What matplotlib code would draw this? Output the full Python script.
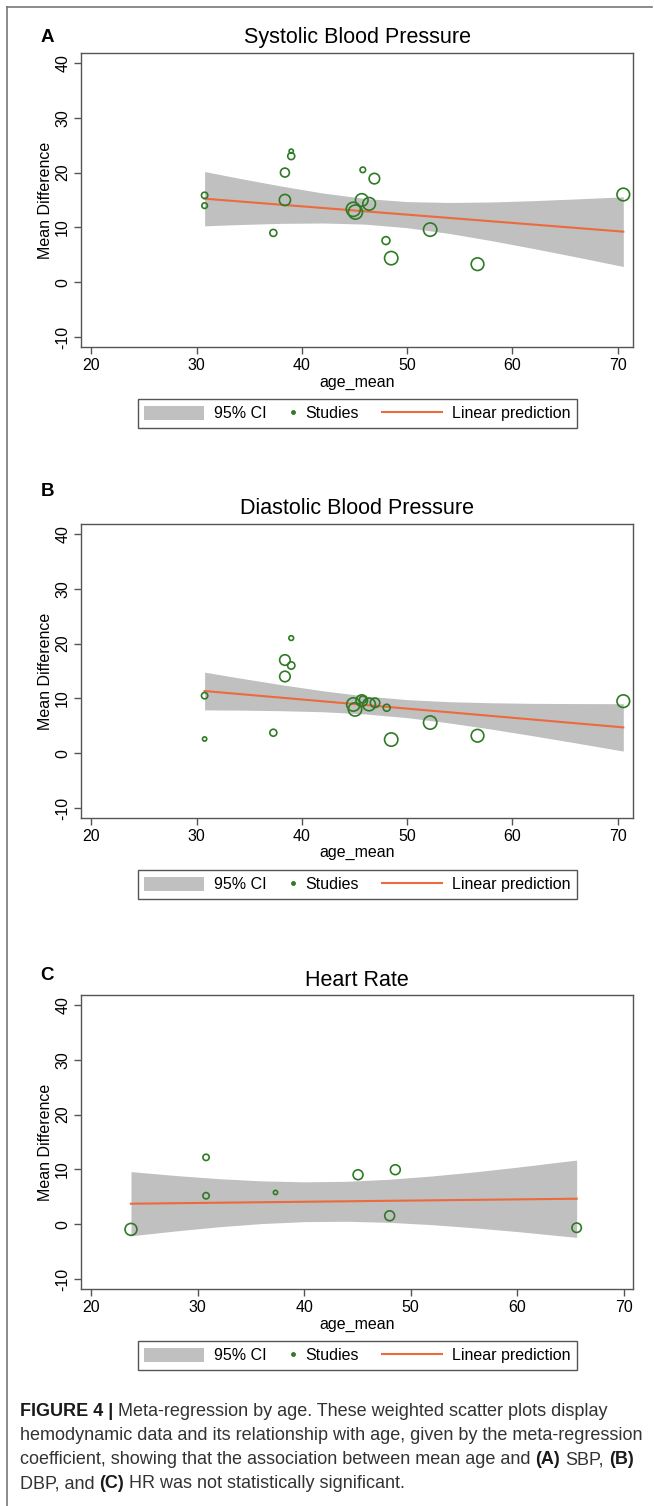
import numpy as np
import matplotlib.pyplot as plt
from matplotlib.lines import Line2D
from matplotlib.patches import Patch
from matplotlib.legend_handler import HandlerLine2D

plt.rcParams['font.family'] = ['Liberation Sans', 'DejaVu Sans']
plt.rcParams['axes.unicode_minus'] = False

# ---- data ----
# A: systolic blood pressure
sbp_age = [30.77, 30.77, 37.3, 38.4, 38.4, 39.0, 39.0, 45.8, 46.9, 44.9,
           45.1, 45.7, 46.4, 48.0, 48.5, 52.2, 56.7, 70.55]
sbp_md = [15.85, 13.97, 9.0, 20.0, 15.0, 23.9, 23.0, 20.5, 18.9, 13.3,
          12.8, 15.0, 14.3, 7.6, 4.4, 9.6, 3.3, 16.0]
sbp_w = [9, 7, 11, 18, 28, 4, 11, 7, 25, 45, 45, 36, 36, 14, 40, 40, 36, 36]
sbp_fit_x = [30.77, 70.55]
sbp_fit_y = [15.24, 9.23]
sbp_ci_x = [30.77, 34, 38, 42, 46, 50, 54, 58, 62, 66, 70.55]
sbp_ci_hi = [20.19, 18.98, 17.56, 16.27, 15.28, 14.71, 14.55, 14.64, 14.88, 15.19, 15.58]
sbp_ci_lo = [10.29, 10.52, 10.74, 10.81, 10.60, 9.95, 8.91, 7.60, 6.16, 4.65, 2.88]

# B: diastolic blood pressure
dbp_age = [30.77, 30.77, 37.3, 38.4, 38.4, 39.0, 39.0, 45.8, 46.96, 44.9,
           45.06, 45.7, 46.4, 48.07, 48.5, 52.2, 56.7, 70.55]
dbp_md = [10.5, 2.6, 3.75, 17.0, 14.0, 21.0, 16.0, 9.8, 9.2, 8.9,
          8.0, 9.6, 8.9, 8.3, 2.5, 5.6, 3.2, 9.5]
dbp_w = [9, 4, 11, 25, 25, 5, 12, 11, 20, 40, 40, 30, 36, 11, 40, 40, 36, 36]
dbp_fit_x = [30.77, 70.55]
dbp_fit_y = [11.35, 4.72]
dbp_ci_x = [30.77, 34, 38, 42, 46, 50, 54, 58, 62, 66, 70.55]
dbp_ci_hi = [14.79, 13.75, 12.52, 11.39, 10.45, 9.78, 9.40, 9.21, 9.10, 9.06, 9.04]
dbp_ci_lo = [7.91, 7.87, 7.76, 7.57, 7.17, 6.50, 5.54, 4.41, 3.18, 1.90, 0.40]

# C: heart rate
hr_age = [23.73, 30.78, 30.78, 37.3, 45.05, 48.55, 48.02, 65.58]
hr_md = [-0.93, 12.2, 5.2, 5.8, 9.03, 9.95, 1.55, -0.63]
hr_w = [32, 9, 9, 4, 22, 22, 22, 20]
hr_fit_x = [23.73, 65.58]
hr_fit_y = [3.75, 4.66]
hr_ci_x = [23.73, 28, 32, 36, 40, 44, 48, 52, 56, 60, 65.58]
hr_ci_hi = [9.60, 8.88, 8.31, 7.91, 7.74, 7.83, 8.21, 8.81, 9.55, 10.41, 11.71]
hr_ci_lo = [-2.10, -1.20, -0.45, 0.13, 0.48, 0.55, 0.35, -0.07, -0.65, -1.33, -2.39]

legend_labels = ['95% CI', 'Studies', 'Linear prediction']
yticks = [-10, 0, 10, 20, 30, 40]
xticks = [20, 30, 40, 50, 60, 70]

GREEN = '#2f7a25'
ORANGE = '#ec6a3e'
CI_GRAY = '#c0c0c0'
FRAME = '#555555'

W, H = 654, 1506
fig = plt.figure(figsize=(W / 100, H / 100), dpi=100)


class SmallDot(HandlerLine2D):
    # narrow handle box for the dot marker
    def legend_artist(self, legend, orig_handle, fontsize, handlebox):
        handlebox.width = 0.4 * fontsize
        return super().legend_artist(legend, orig_handle, fontsize, handlebox)


def draw_panel(top_px, letter, letter_dy, title, age, md, w, fit_x, fit_y,
               ci_x, ci_lo, ci_hi, xlim):
    left, right, height = 81.25, 633.3, 294.0
    ax = fig.add_axes([left / W, 1 - (top_px + height) / H,
                       (right - left) / W, height / H])
    ax.fill_between(ci_x, ci_lo, ci_hi, color=CI_GRAY, lw=0, zorder=1)
    ax.scatter(age, md, s=np.array(w) * 2.3, facecolors='none',
               edgecolors=GREEN, linewidths=1.2, zorder=3)
    ax.plot(fit_x, fit_y, color=ORANGE, lw=1.5, zorder=2)

    ax.set_xlim(*xlim)
    ax.set_ylim(-11.8, 41.8)
    ax.set_xticks(xticks)
    ax.set_yticks(yticks)
    ax.tick_params(labelsize=11.5, length=5, width=1, color=FRAME, pad=3)
    ax.tick_params(axis='y', labelrotation=90)
    for lab in ax.get_yticklabels():
        lab.set_va('center')
    for sp in ax.spines.values():
        sp.set_color(FRAME)
        sp.set_linewidth(1.0)

    ax.set_xlabel('age_mean', fontsize=11.5)
    ax.xaxis.label.set_va('center')
    ax.xaxis.set_label_coords(0.5, -35 / height)
    ax.set_ylabel('Mean Difference', fontsize=11.5)
    ax.yaxis.label.set_va('center')
    ax.yaxis.set_label_coords(-36 / (right - left), 0.5)

    ax.text(0.5, 1 + 15 / height, title, transform=ax.transAxes,
            ha='center', va='center', fontsize=15.5)
    ax.text((47 - left) / (right - left), 1 + letter_dy / height, letter,
            transform=ax.transAxes, ha='center', va='center',
            fontsize=13.5, fontweight='bold')

    dot = Line2D([], [], marker='o', ls='none', color=GREEN, markersize=2.5)
    handles = [Patch(facecolor=CI_GRAY, edgecolor='none'), dot,
               Line2D([], [], color=ORANGE, lw=1.5)]
    leg = ax.legend(handles, legend_labels, loc='center',
                    bbox_to_anchor=(0.5, -66.5 / height), ncol=3,
                    fontsize=11.5, frameon=True, fancybox=False,
                    edgecolor=FRAME, framealpha=1, handlelength=3.76,
                    handleheight=1.0, handletextpad=0.6, columnspacing=1.44,
                    borderpad=0.42, handler_map={dot: SmallDot()})
    leg.get_frame().set_linewidth(1.0)
    return ax


draw_panel(53, 'A', 15, 'Systolic Blood Pressure', sbp_age, sbp_md, sbp_w,
           sbp_fit_x, sbp_fit_y, sbp_ci_x, sbp_ci_lo, sbp_ci_hi, (19.05, 71.5))
draw_panel(524, 'B', 32, 'Diastolic Blood Pressure', dbp_age, dbp_md, dbp_w,
           dbp_fit_x, dbp_fit_y, dbp_ci_x, dbp_ci_lo, dbp_ci_hi, (19.05, 71.5))
draw_panel(995, 'C', 20, 'Heart Rate', hr_age, hr_md, hr_w,
           hr_fit_x, hr_fit_y, hr_ci_x, hr_ci_lo, hr_ci_hi, (19.06, 70.9))

# outer border (left and top)
fig.add_artist(Line2D([7 / W, 7 / W], [1 - 7 / H, 0], color='#777777', lw=1.2))
fig.add_artist(Line2D([7 / W, 652 / W], [1 - 7 / H, 1 - 7 / H], color='#777777', lw=1.2))

# caption, bold runs mixed with normal text
caption = [
    [('FIGURE 4 |', True), ('Meta-regression by age. These weighted scatter plots display', False)],
    [('hemodynamic data and its relationship with age, given by the meta-regression', False)],
    [('coefficient, showing that the association between mean age and', False),
     ('(A)', True), ('SBP,', False), ('(B)', True)],
    [('DBP, and', False), ('(C)', True), ('HR was not statistically significant.', False)],
]
cap_size = 13
renderer = fig.canvas.get_renderer()
t1 = fig.text(0, 0, 'x x', fontsize=cap_size)
t2 = fig.text(0, 0, 'xx', fontsize=cap_size)
space = (t1.get_window_extent(renderer).width - t2.get_window_extent(renderer).width) / W
t1.remove()
t2.remove()

for i, runs in enumerate(caption):
    x = 20 / W
    y = 1 - (1411 + 24.3 * i) / H
    for txt, bold in runs:
        t = fig.text(x, y, txt, fontsize=cap_size, va='center', ha='left',
                     fontweight='bold' if bold else 'normal',
                     color='#1a1a1a' if bold else '#333333')
        x += t.get_window_extent(renderer).width / W + space

fig.savefig('out.png', dpi=100)
